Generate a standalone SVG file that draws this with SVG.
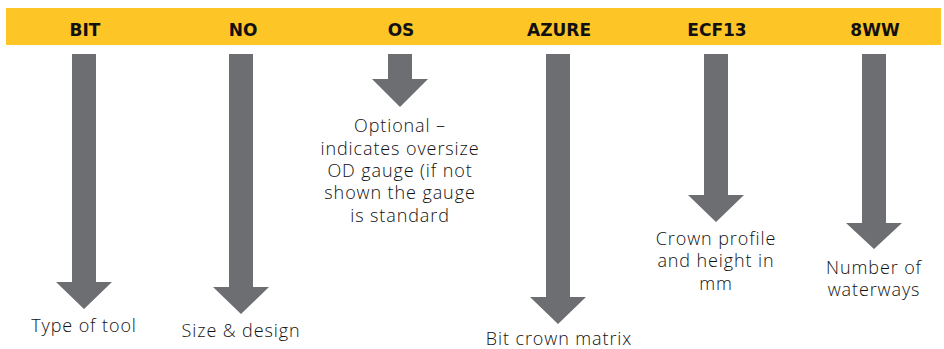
<svg xmlns="http://www.w3.org/2000/svg" width="944" height="349" viewBox="0 0 944 349">
<style>
.hdr{font-family:"DejaVu Sans","Liberation Sans",sans-serif;font-weight:700;font-size:17px;fill:#111;text-anchor:middle}
.lbl{font-family:"Open Sans","Liberation Sans",sans-serif;font-weight:300;font-size:18px;letter-spacing:0.9px;fill:#111;text-anchor:middle}
.arr{fill:#6d6e71}
</style>
<rect x="0" y="0" width="944" height="349" fill="#fff"/>
<rect x="6" y="8" width="935" height="37" fill="#fec526"/>
<g id="connectors">
<path class="arr" d="M72,54H96V282H112L84,309L56,282H72Z"/>
<path class="arr" d="M229,54H253V287H269L241,314L213,287H229Z"/>
<path class="arr" d="M388,54H412V79H428L400,107L372,79H388Z"/>
<path class="arr" d="M546,54H570V297H586L558,324L530,297H546Z"/>
<path class="arr" d="M704,54H728V195H744L716,222L688,195H704Z"/>
<path class="arr" d="M862,54H886V223H902L874,249L846,223H862Z"/>
</g>
<g id="bit"><text class="hdr" x="85" y="36">BIT</text><text class="lbl" x="84" y="332">Type of tool</text></g>
<g id="no"><text class="hdr" x="243" y="36">NO</text><text class="lbl" x="241" y="337">Size &amp; design</text></g>
<g id="os"><text class="hdr" x="401" y="36">OS</text>
<text class="lbl" x="400" y="132">Optional –</text>
<text class="lbl" x="400" y="155">indicates oversize</text>
<text class="lbl" x="400" y="177">OD gauge (if not</text>
<text class="lbl" x="400" y="199">shown the gauge</text>
<text class="lbl" x="400" y="222">is standard</text></g>
<g id="azure"><text class="hdr" x="559" y="36">AZURE</text><text class="lbl" x="559" y="345">Bit crown matrix</text></g>
<g id="ecf13"><text class="hdr" x="717" y="36">ECF13</text>
<text class="lbl" x="716" y="245">Crown profile</text>
<text class="lbl" x="716" y="267">and height in</text>
<text class="lbl" x="716" y="290">mm</text></g>
<g id="8ww"><text class="hdr" x="875" y="36">8WW</text>
<text class="lbl" x="874" y="274">Number of</text>
<text class="lbl" x="874" y="296">waterways</text></g>
</svg>
